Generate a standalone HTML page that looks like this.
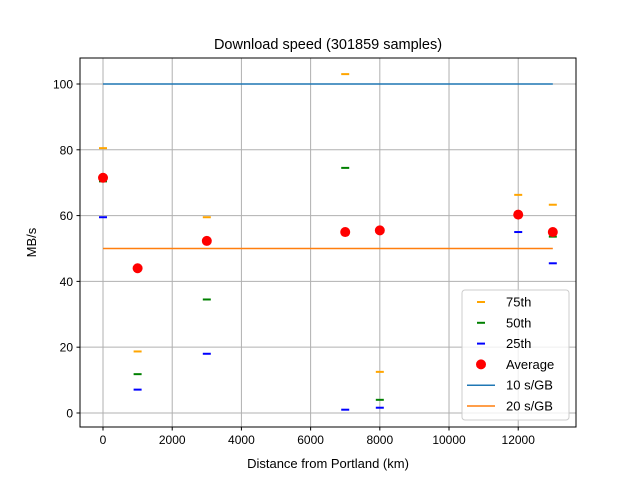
<!DOCTYPE html>
<html><head><meta charset="utf-8"><style>body{margin:0;background:#fff}svg{display:block;font-family:"Liberation Sans","DejaVu Sans",sans-serif}</style></head>
<body>
<svg id="chart" width="640" height="480" xmlns="http://www.w3.org/2000/svg"></svg>
<script>
const distances=[0,1000,3000,7000,8000,12000,13000];
const p75=[80.5,18.7,59.5,103,12.5,66.3,63.3];
const p50=[70.4,11.8,34.5,74.5,4,60,53.6];
const p25=[59.5,7.1,18,1,1.6,55,45.5];
const avg=[71.5,44,52.3,55,55.5,60.3,55];
const xTicks=[0,2000,4000,6000,8000,10000,12000];
const yTicks=[0,20,40,60,80,100];
const refLines=[{label:'10 s/GB',v:100,c:'#1f77b4'},{label:'20 s/GB',v:50,c:'#ff7f0e'}];
const L=80,R=576,T=58,B=427;
const xmin=-665,xmax=13670,ymin=-4.26,ymax=107.9;
const X=v=>L+(v-xmin)/(xmax-xmin)*(R-L);
const Y=v=>B-(v-ymin)/(ymax-ymin)*(B-T);
const svg=document.getElementById('chart');
const NS='http://www.w3.org/2000/svg';
function add(tag,attrs,parent){const e=document.createElementNS(NS,tag);for(const k in attrs)e.setAttribute(k,attrs[k]);(parent||svg).appendChild(e);return e;}
// grid
xTicks.forEach(t=>{const g=add('line',{x1:X(t),x2:X(t),y1:T,y2:B,stroke:'#b0b0b0','stroke-width':1});


const tk=add('line',{x1:X(t),x2:X(t),y1:B,y2:B+3.5,stroke:'#000'});


const tx=add('text',{x:X(t),y:B+17,'text-anchor':'middle','font-size':12});tx.textContent=t;

});
yTicks.forEach(t=>{const g=add('line',{x1:L,x2:R,y1:Y(t),y2:Y(t),stroke:'#b0b0b0','stroke-width':1});


const tk=add('line',{x1:L-3.5,x2:L,y1:Y(t),y2:Y(t),stroke:'#000'});


const tx=add('text',{x:L-7,y:Y(t)+4.5,'text-anchor':'end','font-size':12});tx.textContent=t;

});
function dash(series,color,name){series.forEach((v,i)=>{const m=add('line',{x1:X(distances[i])-4,x2:X(distances[i])+4,y1:Y(v),y2:Y(v),stroke:color,'stroke-width':2});

});}
dash(p75,'orange','p75-marker');dash(p50,'green','p50-marker');dash(p25,'blue','p25-marker');
avg.forEach((v,i)=>{const c=add('circle',{cx:X(distances[i]),cy:Y(v),r:5,fill:'red'});

});
refLines.forEach(r=>{const l=add('line',{x1:X(0),x2:X(13000),y1:Y(r.v),y2:Y(r.v),stroke:r.c,'stroke-width':1.5});

});
const fr=add('rect',{x:L,y:T,width:R-L,height:B-T,fill:'none',stroke:'#000','stroke-width':1});


const title=add('text',{x:(L+R)/2,y:49,'text-anchor':'middle','font-size':14.5});title.textContent='Download speed (301859 samples)';


const xl=add('text',{x:(L+R)/2,y:468,'text-anchor':'middle','font-size':13});xl.textContent='Distance from Portland (km)';


const yl=add('text',{x:0,y:0,'text-anchor':'middle','font-size':13,transform:'translate(36,'+((T+B)/2)+') rotate(-90)'});yl.textContent='MB/s';


// legend
const lg=add('g',{});


add('rect',{x:462,y:290,width:107,height:130,rx:3,fill:'#fff','fill-opacity':0.8,stroke:'#ccc'},lg);
const items=[['75th','orange','dash'],['50th','green','dash'],['25th','blue','dash'],['Average','red','dot'],['10 s/GB','#1f77b4','line'],['20 s/GB','#ff7f0e','line']];
items.forEach((it,i)=>{const y=302+i*20.8;const g=add('g',{},lg);


if(it[2]==='dash')add('line',{x1:477,x2:485,y1:y,y2:y,stroke:it[1],'stroke-width':2},g);
else if(it[2]==='dot')add('circle',{cx:481,cy:y,r:5,fill:it[1]},g);
else add('line',{x1:467,x2:495,y1:y,y2:y,stroke:it[1],'stroke-width':1.5},g);
const t=add('text',{x:506,y:y+4.5,'font-size':13},g);t.textContent=it[0];});
</script>
</body></html>
